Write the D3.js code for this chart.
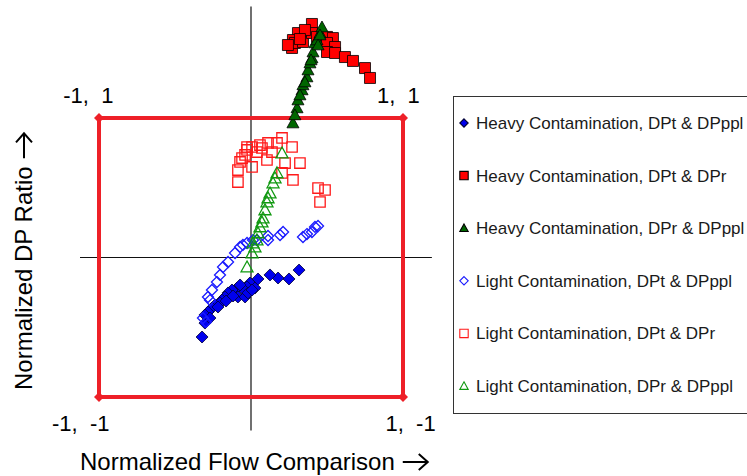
<!DOCTYPE html>
<html>
<head>
<meta charset="utf-8">
<script src="https://cdn.jsdelivr.net/npm/d3@7"></script>
<style>
  body { margin: 0; background: #fff; }
  svg { display: block; font-family: "Liberation Sans", Arial, sans-serif; }
</style>
</head>
<body>
<svg id="chart" width="747" height="476"></svg>
<script>
// series values, [flow comparison, DP ratio]
var heavyDPtDPppl = [
  [0.316,-0.090],[0.250,-0.154],[0.178,-0.147],[0.125,-0.125],[0.046,-0.154],
  [-0.007,-0.183],[-0.026,-0.211],[-0.059,-0.219],[-0.092,-0.219],[-0.125,-0.233],
  [-0.151,-0.254],[-0.086,-0.283],[-0.039,-0.283],[-0.020,-0.254],[0.026,-0.219],
  [-0.171,-0.283],[-0.191,-0.305],[-0.204,-0.326],[-0.237,-0.341],[-0.257,-0.362],
  [-0.283,-0.391],[-0.303,-0.412],[-0.303,-0.470],[-0.322,-0.570],[-0.118,-0.276],
  [-0.164,-0.312],[-0.072,-0.197],[0.007,-0.233],[-0.217,-0.355],[-0.270,-0.434]
];
var heavyDPtDPr = [
  [0.401,1.674],[0.309,1.609],[0.276,1.559],[0.270,1.502],[0.289,1.538],
  [0.342,1.545],[0.401,1.609],[0.434,1.581],[0.500,1.581],[0.539,1.573],
  [0.500,1.538],[0.553,1.509],[0.500,1.473],[0.553,1.466],[0.618,1.437],
  [0.671,1.409],[0.750,1.358],[0.783,1.287],[0.355,1.631],[0.243,1.523],[0.322,1.566]
];
var heavyDPrDPppl = [
  [0.276,0.964],[0.303,1.072],[0.309,1.129],[0.336,1.201],[0.342,1.237],
  [0.368,1.294],[0.375,1.344],[0.388,1.394],[0.401,1.430],[0.408,1.473],
  [0.421,1.538],[0.434,1.559],[0.454,1.609],[0.467,1.652],[0.454,1.595],
  [0.355,1.258],[0.322,1.165],[0.395,1.416],[0.441,1.523],[0.289,1.022]
];
var lightDPtDPppl = [
  [-0.316,-0.434],[-0.283,-0.283],[-0.257,-0.233],[-0.224,-0.176],[-0.184,-0.068],
  [-0.151,-0.032],[-0.105,0.032],[-0.072,0.075],[-0.026,0.104],[-0.053,0.090],
  [0.039,0.125],[0.013,0.125],[0.112,0.125],[0.112,0.154],[0.191,0.161],
  [0.211,0.183],[0.342,0.147],[0.368,0.168],[0.401,0.183],[0.421,0.219],
  [0.441,0.226],[-0.270,-0.305],[-0.204,-0.125],[-0.296,-0.462]
];
var lightDPtDPr = [
  [0.204,0.857],[0.270,0.792],[0.171,0.821],[0.112,0.821],[0.072,0.785],
  [0.007,0.792],[-0.026,0.771],[-0.059,0.713],[-0.072,0.685],[-0.086,0.627],
  [-0.086,0.541],[0.007,0.649],[0.105,0.699],[0.224,0.677],[0.322,0.677],
  [0.204,0.606],[0.276,0.556],[0.441,0.498],[0.487,0.484],[0.454,0.398],
  [-0.026,0.792],[0.039,0.756],[-0.039,0.735],[0.059,0.806],[0.138,0.756]
];
var lightDPrDPppl = [
  [0.204,0.749],[0.171,0.606],[0.145,0.534],[0.125,0.462],[0.105,0.398],
  [0.092,0.341],[0.079,0.283],[0.059,0.219],[0.046,0.176],[0.039,0.125],
  [0.013,0.104],[0.007,0.032],[-0.026,-0.068],[0.158,0.570],[0.112,0.427],
  [0.072,0.254],[0.026,0.075]
];
var boundary = [[-1,1],[1,1],[1,-1],[-1,-1],[-1,1]];
var cornerLabels = ["-1, 1", "1, 1", "1, -1", "-1, -1"];
var seriesNames = [
  "Heavy Contamination, DPt & DPppl",
  "Heavy Contamination, DPt & DPr",
  "Heavy Contamination, DPr & DPppl",
  "Light Contamination, DPt & DPppl",
  "Light Contamination, DPt & DPr",
  "Light Contamination, DPr & DPppl"
];

var svg = d3.select("#chart");

var x = d3.scaleLinear().domain([-1, 1]).range([99, 403]);
var y = d3.scaleLinear().domain([-1, 1]).range([397, 118]);

/// marker shapes, r = half size
function shape(kind, r) {
  if (kind == "diamond") return "M0," + (-r) + "L" + r + ",0L0," + r + "L" + (-r) + ",0Z";
  if (kind == "square") return "M" + (-r) + "," + (-r) + "h" + 2*r + "v" + 2*r + "h" + (-2*r) + "Z";
  return "M0," + (-r) + "L" + r + "," + (r*0.8) + "L" + (-r) + "," + (r*0.8) + "Z";
}

var series = [
  {data: heavyDPtDPppl, kind: "diamond", r: 6,   fill: "#0000ee", stroke: "#000033", sw: 0.8},
  {data: heavyDPtDPr,   kind: "square",  r: 5.5, fill: "#ff0000", stroke: "#000", sw: 0.8},
  {data: heavyDPrDPppl, kind: "triangle",r: 6,   fill: "#006600", stroke: "#000", sw: 0.8},
  {data: lightDPtDPppl, kind: "diamond", r: 5.5, fill: "none", stroke: "#1a1aff", sw: 1.3},
  {data: lightDPtDPr,   kind: "square",  r: 5.2, fill: "none", stroke: "#ff1a1a", sw: 1.3},
  {data: lightDPrDPppl, kind: "triangle",r: 6,   fill: "none", stroke: "#119911", sw: 1.3}
];

/// cross axes
svg.append("line")
  .attr("x1", x(-1.125)).attr("x2", x(1.19))
  .attr("y1", y(0)).attr("y2", y(0))
  .attr("stroke", "#111").attr("stroke-width", 1.2);
svg.append("line")
  .attr("x1", x(0)).attr("x2", x(0))
  .attr("y1", y(1.8)).attr("y2", y(-1.24))
  .attr("stroke", "#111").attr("stroke-width", 1.2);

/// red boundary square
svg.append("path")
  .attr("d", d3.line().x(d => x(d[0])).y(d => y(d[1]))(boundary))
  .attr("fill", "none").attr("stroke", "#ee2028").attr("stroke-width", 4);
svg.selectAll(".corner")
  .data(boundary.slice(0, 4))
  .enter().append("path")
  .attr("transform", d => "translate(" + x(d[0]) + "," + y(d[1]) + ")")
  .attr("d", shape("diamond", 5))
  .attr("fill", "#ee2028");

/// corner labels
var labPos = [[-1.07, 1.16], [0.97, 1.16], [1.05, -1.19], [-1.12, -1.19]];
svg.selectAll(".clab")
  .data(cornerLabels)
  .enter().append("text")
  .attr("x", (d,i) => x(labPos[i][0]))
  .attr("y", (d,i) => y(labPos[i][1]))
  .attr("text-anchor", "middle")
  .attr("dy", "0.35em")
  .attr("font-size", "22px")
  .attr("fill", "#000")
  .style("white-space", "pre")
  .text(d => d.replace(", ", ",  "));

/// points
series.forEach(function(s) {
  svg.append("g").selectAll("path")
    .data(s.data)
    .enter().append("path")
    .attr("transform", d => "translate(" + x(d[0]) + "," + y(d[1]) + ")")
    .attr("d", shape(s.kind, s.r))
    .attr("fill", s.fill)
    .attr("stroke", s.stroke)
    .attr("stroke-width", s.sw);
});

/// axis titles, with drawn arrows after the words
function arrow(g, x0, len) {
  g.append("path")
    .attr("d", "M" + x0 + ",-8H" + (x0 + len) + "M" + (x0 + len - 9) + ",-16L" + (x0 + len) + ",-8L" + (x0 + len - 9) + ",0")
    .attr("fill", "none").attr("stroke", "#000").attr("stroke-width", 2);
}
var xt = svg.append("g").attr("transform", "translate(80,470)");
var xtt = xt.append("text")
  .attr("font-size", "24px").attr("fill", "#000")
  .text("Normalized Flow Comparison");
arrow(xt, xtt.node().getComputedTextLength() + 8, 25);

var yt = svg.append("g").attr("transform", "translate(32,390) rotate(-90)");
var ytt = yt.append("text")
  .attr("font-size", "24px").attr("fill", "#000")
  .text("Normalized DP Ratio");
arrow(yt, ytt.node().getComputedTextLength() + 8, 25);

/// legend
var leg = svg.append("g");
leg.append("rect")
  .attr("x", 453.5).attr("y", 96.5)
  .attr("width", 300).attr("height", 317)
  .attr("fill", "#fff").attr("stroke", "#333").attr("stroke-width", 1);
var items = leg.selectAll(".item")
  .data(seriesNames)
  .enter().append("g")
  .attr("transform", (d,i) => "translate(464," + (123 + i * 52.6) + ")");
items.append("path")
  .attr("d", (d,i) => shape(series[i].kind, 4.2))
  .attr("fill", (d,i) => series[i].fill)
  .attr("stroke", (d,i) => series[i].stroke)
  .attr("stroke-width", 1.1);
items.append("text")
  .attr("x", 12).attr("dy", "0.35em")
  .attr("font-size", "17px")
  .attr("fill", "#1a1a1a")
  .text(d => d);
</script>
</body>
</html>
